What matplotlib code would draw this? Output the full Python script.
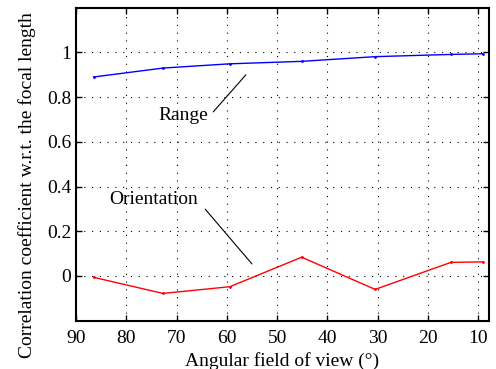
import matplotlib
matplotlib.use("Agg")
import matplotlib.pyplot as plt

fov = [86.5, 72.7, 59.4, 45.1, 30.5, 15.4, 9.1]
range_corr = [0.890, 0.930, 0.949, 0.960, 0.981, 0.991, 0.994]
orient_corr = [-0.006, -0.078, -0.048, 0.084, -0.060, 0.061, 0.063]
xticks = [90, 80, 70, 60, 50, 40, 30, 20, 10]
yticks = [0, 0.2, 0.4, 0.6, 0.8, 1]
ytick_labels = ["0", "0.2", "0.4", "0.6", "0.8", "1"]

plt.rcParams['font.family'] = ['Liberation Serif', 'DejaVu Serif']

fig = plt.figure(figsize=(4.96, 3.69), dpi=100)
ax = fig.add_axes([76/496, 1 - 320.7/369, (488.7-76)/496, (320.7-7.7)/369])

ax.plot(fov, range_corr, color='blue', lw=1.0, marker='.', markersize=2)
ax.plot(fov, orient_corr, color='red', lw=1.0, marker='.', markersize=2)

ax.set_xlim(90, 7.9)
ax.set_ylim(-0.2, 1.2)
ax.set_xticks(xticks)
ax.set_yticks(yticks)
ax.set_yticklabels(ytick_labels)
ax.tick_params(direction='in', top=True, right=True, labelsize=14, length=4, width=1)
ax.tick_params(axis='x', pad=7)
for s in ax.spines.values():
    s.set_linewidth(1.5)
ax.grid(True, linestyle=(0, (1, 6)), color='black', lw=0.8)

ax.set_xlabel("Angular field of view (°)", fontsize=14, labelpad=3)
ax.set_ylabel("Correlation coefficient w.r.t. the focal length", fontsize=14)
ax.yaxis.set_label_coords(-0.097, 0.4335)

ax.text(68.7, 0.717, "Range", fontsize=14, ha='center', va='center')
ax.annotate("", xy=(56.2, 0.90), xytext=(62.7, 0.734),
            arrowprops=dict(arrowstyle='-', color='black', lw=0.8, shrinkA=0, shrinkB=0))
ax.text(74.6, 0.343, "Orientation", fontsize=14, ha='center', va='center')
ax.annotate("", xy=(55.0, 0.054), xytext=(64.3, 0.299),
            arrowprops=dict(arrowstyle='-', color='black', lw=0.8, shrinkA=0, shrinkB=0))

fig.savefig("out.png", dpi=100)
